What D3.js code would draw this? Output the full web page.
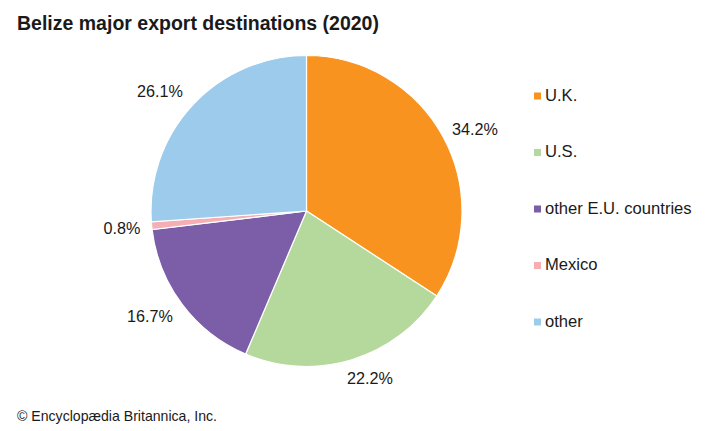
<!DOCTYPE html>
<html>
<head>
<meta charset="utf-8">
<script src="https://cdn.jsdelivr.net/npm/d3@7"></script>
<style>
  html, body { margin: 0; background: #fff; }
  text { font-family: "Liberation Sans", Arial, sans-serif; fill: #1a1a1a; }
</style>
</head>
<body>
<svg id="chart" width="720" height="431"></svg>
<script>
const categories = ["U.K.", "U.S.", "other E.U. countries", "Mexico", "other"];
const shares = [34.2, 22.2, 16.7, 0.8, 26.1];
const colors = ["#f7931e", "#b5d99c", "#7b5ea7", "#f4aeb4", "#9dcbec"];

// label anchor spots around the pie, by category
const labelPos = [[475, 130.5], [370, 379.5], [150, 317.5], [122, 229.5], [160, 92.5]];

const svg = d3.select("#chart");

svg.append("text")
  .attr("x", 17).attr("y", 30)
  .attr("font-size", 19.5).attr("font-weight", "bold")
  .text("Belize major export destinations (2020)");

// PIE
const pie = d3.pie().sort(null).value(d => d);
const arc = d3.arc().innerRadius(0).outerRadius(155.5);

const g = svg.append("g").attr("transform", "translate(306.5,211)");
g.selectAll("path")
  .data(pie(shares))
  .join("path")
  .attr("d", arc)
  .attr("fill", (d, i) => colors[i])
  .attr("stroke", "#fff")
  .attr("stroke-width", 1.2);

// VALUE LABELS
svg.selectAll("text.val")
  .data(shares)
  .join("text")
  .attr("class", "val")
  .attr("x", (d, i) => labelPos[i][0])
  .attr("y", (d, i) => labelPos[i][1])
  .attr("text-anchor", "middle")
  .attr("dominant-baseline", "middle")
  .attr("font-size", 16.2)
  .text(d => d.toFixed(1) + "%");

// LEGEND
const legendY = d3.scalePoint().domain(categories).range([96, 322]);
const legend = svg.selectAll("g.leg")
  .data(categories)
  .join("g")
  .attr("class", "leg")
  .attr("transform", d => `translate(534,${legendY(d)})`);
legend.append("rect")
  .attr("x", 0).attr("y", -3.5)
  .attr("width", 7).attr("height", 7)
  .attr("fill", (d, i) => colors[i]);
legend.append("text")
  .attr("x", 11).attr("y", 0.5)
  .attr("dominant-baseline", "middle")
  .attr("font-size", 16.6)
  .text(d => d);

svg.append("text")
  .attr("x", 17).attr("y", 421)
  .attr("font-size", 14.1)
  .text("© Encyclopædia Britannica, Inc.");
</script>
</body>
</html>
